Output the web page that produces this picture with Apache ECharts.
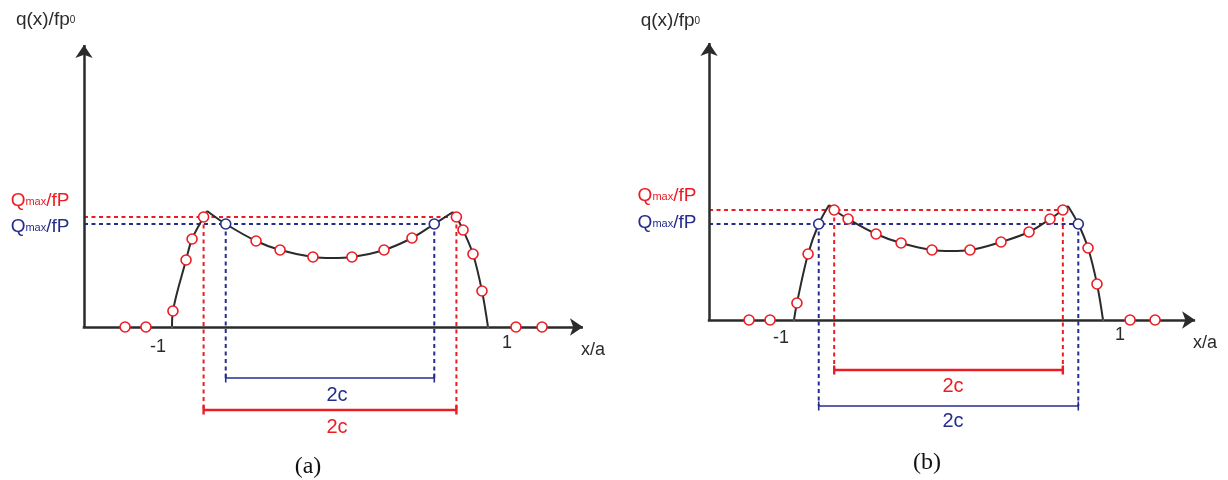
<!DOCTYPE html>
<html>
<head>
<meta charset="utf-8">
<script src="https://cdn.jsdelivr.net/npm/echarts@6/dist/echarts.min.js"></script>
<style>
  html, body { margin: 0; padding: 0; background: #ffffff; }
  #chart { width: 1228px; height: 480px; }
</style>
</head>
<body>
<div id="chart"></div>
<script>
// Contact pressure q(x)/fp0 over x/a, with the stick zone 2c marked.

// ---- text drawn on the figure ----
const yTitle = ['q(x)/fp', '0'];
const xTitle = 'x/a';
const tickValues = [-1, 1];
const tickLabels = ['-1', '1'];
const qmaxParts = ['Q', 'max', '/fP'];
const spanText = '2c';
const panelTags = ['(a)', '(b)'];

// ---- panel (a) ----
const aCurveLeft  = [[-1, 0], [-0.994, 0.16], [-0.911, 0.67], [-0.873, 0.88], [-0.80, 1.10], [-0.778, 1.16]];
const aCurveMid   = [[-0.778, 1.16], [-0.66, 1.03], [-0.468, 0.86], [-0.316, 0.77], [-0.108, 0.70], [0.013, 0.69],
                     [0.139, 0.70], [0.342, 0.77], [0.519, 0.89], [0.66, 1.03], [0.778, 1.15]];
const aCurveRight = [[0.778, 1.15], [0.80, 1.10], [0.842, 0.97], [0.905, 0.73], [0.962, 0.36], [1, 0]];
const aRedPoints  = [[-1.297, 0], [-1.165, 0], [-0.994, 0.16], [-0.911, 0.67], [-0.873, 0.88], [-0.80, 1.10],
                     [-0.468, 0.86], [-0.316, 0.77], [-0.108, 0.70], [0.139, 0.70], [0.342, 0.77], [0.519, 0.89],
                     [0.80, 1.10], [0.842, 0.97], [0.905, 0.73], [0.962, 0.36], [1.177, 0], [1.342, 0]];
const aBluePoints = [[-0.66, 1.03], [0.66, 1.03]];
const aRedQmax  = 1.10, aRedC  = 0.80;
const aBlueQmax = 1.03, aBlueC = 0.66;

// ---- panel (b) ----
const bCurveLeft  = [[-1, 0], [-0.981, 0.17], [-0.909, 0.66], [-0.84, 0.96], [-0.773, 1.15]];
const bCurveMid   = [[-0.773, 1.15], [-0.74, 1.10], [-0.650, 1.01], [-0.469, 0.86], [-0.307, 0.77], [-0.107, 0.70],
                     [0.016, 0.69], [0.139, 0.70], [0.340, 0.78], [0.521, 0.88], [0.657, 1.01], [0.74, 1.10], [0.773, 1.14]];
const bCurveRight = [[0.773, 1.14], [0.84, 0.96], [0.903, 0.72], [0.961, 0.36], [1, 0]];
const bRedPoints  = [[-1.291, 0], [-1.155, 0], [-0.981, 0.17], [-0.909, 0.66], [-0.74, 1.10], [-0.650, 1.01],
                     [-0.469, 0.86], [-0.307, 0.77], [-0.107, 0.70], [0.139, 0.70], [0.340, 0.78], [0.521, 0.88],
                     [0.657, 1.01], [0.74, 1.10], [0.903, 0.72], [0.961, 0.36], [1.175, 0], [1.337, 0]];
const bBluePoints = [[-0.84, 0.96], [0.84, 0.96]];
const bRedQmax  = 1.10, bRedC  = 0.74;
const bBlueQmax = 0.96, bBlueC = 0.84;

// ---- styling ----
const RED = '#ec1c24';
const BLUE = '#262d8c';
const INK = '#2b2b2b';
const SANS = '"Liberation Sans", Arial, Helvetica, sans-serif';
const SERIF = '"Liberation Serif", "Times New Roman", serif';

// per-panel layout (axes frame, bracket rows and annotation anchors, in data units)
const panels = [
  {
    grid: { left: 14, top: 7, width: 592.5, height: 470 },
    curves: [aCurveLeft, aCurveMid, aCurveRight], red: aRedPoints, blue: aBluePoints,
    redQ: aRedQmax, redC: aRedC, blueQ: aBlueQmax, blueC: aBlueC,
    axisX0: -1.557, axisXEnd: 1.601, axisYEnd: 2.82, cornerPad: 0.008,
    redRow: -0.83, blueRow: -0.51, redTextY: -1.00, blueTextY: -0.68, spanTextX: 0.044,
    yTitleAt: [-1.80, 3.07], qRedAt: [-1.835, 1.26], qBlueAt: [-1.835, 1.00],
    xTitleAt: [1.665, -0.23], tagAt: [-0.139, -1.40],
    tickOffsets: [[-14, 20], [19, 16]]
  },
  {
    grid: { left: 639.5, top: 0, width: 579.4, height: 470 },
    curves: [bCurveLeft, bCurveMid, bCurveRight], red: bRedPoints, blue: bBluePoints,
    redQ: bRedQmax, redC: bRedC, blueQ: bBlueQmax, blueC: bBlueC,
    axisX0: -1.550, axisXEnd: 1.596, axisYEnd: 2.77, cornerPad: 0.008,
    redRow: -0.50, blueRow: -0.86, redTextY: -0.66, blueTextY: -1.01, spanTextX: 0.029,
    yTitleAt: [-1.80, 2.99], qRedAt: [-1.822, 1.24], qBlueAt: [-1.822, 0.97],
    xTitleAt: [1.66, -0.23], tagAt: [-0.139, -1.43],
    tickOffsets: [[-13, 18], [17, 15]]
  }
];

const rich = {
  t:   { fontSize: 19, color: INK, fontFamily: SANS },
  ts:  { fontSize: 10, color: INK, fontFamily: SANS, verticalAlign: 'bottom', padding: [0, 0, 4, 0] },
  rq:  { fontSize: 19, color: RED, fontFamily: SANS },
  rqs: { fontSize: 11, color: RED, fontFamily: SANS, verticalAlign: 'bottom', padding: [0, 0, 3, 0] },
  bq:  { fontSize: 19, color: BLUE, fontFamily: SANS },
  bqs: { fontSize: 11, color: BLUE, fontFamily: SANS, verticalAlign: 'bottom', padding: [0, 0, 3, 0] }
};

function panelSeries(i, P) {
  const ax = { xAxisIndex: i, yAxisIndex: i };
  const out = [];

  const dashed = (color, pts) => ({
    type: 'line', ...ax, data: pts, symbol: 'none', silent: true, clip: false, z: 1,
    lineStyle: { color, width: 2, type: [4, 3.5] }
  });
  // guide lines from the Qmax levels to the stick-zone edges
  out.push(dashed(RED,  [[P.axisX0, P.redQ],  [P.redC, P.redQ]]));
  out.push(dashed(BLUE, [[P.axisX0, P.blueQ], [P.blueC, P.blueQ]]));
  [-1, 1].forEach(k => {
    out.push(dashed(RED,  [[k * P.redC, P.redQ],   [k * P.redC, P.redRow]]));
    out.push(dashed(BLUE, [[k * P.blueC, P.blueQ], [k * P.blueC, P.blueRow]]));
  });

  // 2c brackets
  const bracket = (color, c, y, w) => ({
    type: 'line', ...ax, data: [[-c, y], [c, y]], symbol: 'rect', symbolSize: [w, 9], showSymbol: true,
    itemStyle: { color }, lineStyle: { color, width: w }, silent: true, clip: false, z: 2
  });
  out.push(bracket(RED, P.redC, P.redRow, 2.4));
  out.push(bracket(BLUE, P.blueC, P.blueRow, 1.6));

  // coordinate axes with arrowheads
  out.push({
    type: 'line', ...ax, silent: true, clip: false, z: 3, symbol: 'none',
    data: [[P.axisX0, 0]],
    markLine: {
      silent: true, animation: false, symbol: ['none', 'arrow'], symbolSize: 13,
      label: { show: false },
      lineStyle: { color: INK, width: 2.5, type: 'solid' },
      emphasis: { disabled: true },
      data: [
        [{ coord: [P.axisX0 - P.cornerPad, 0] }, { coord: [P.axisXEnd, 0] }],
        [{ coord: [P.axisX0, 0] }, { coord: [P.axisX0, P.axisYEnd] }]
      ]
    }
  });

  // pressure curve: rising edge, central dip, falling edge
  P.curves.forEach(pts => out.push({
    type: 'line', ...ax, data: pts, symbol: 'none', smooth: 0.35, silent: true, clip: false, z: 4,
    lineStyle: { color: INK, width: 2 }
  }));

  // sampled values
  const marks = (color, pts) => ({
    type: 'scatter', ...ax, data: pts, symbol: 'circle', symbolSize: 10, silent: true, clip: false, z: 5,
    itemStyle: { color: '#ffffff', borderColor: color, borderWidth: 1.6, opacity: 1 }
  });
  out.push(marks(RED, P.red));
  out.push(marks(BLUE, P.blue));

  // annotations
  const txt = (at, formatter, extra) => ({ value: at, label: Object.assign({ formatter }, extra || {}) });
  const labelData = [
    txt(P.yTitleAt, `{t|${yTitle[0]}}{ts|${yTitle[1]}}`),
    txt(P.qRedAt,  `{rq|${qmaxParts[0]}}{rqs|${qmaxParts[1]}}{rq|${qmaxParts[2]}}`),
    txt(P.qBlueAt, `{bq|${qmaxParts[0]}}{bqs|${qmaxParts[1]}}{bq|${qmaxParts[2]}}`),
    txt(P.xTitleAt, xTitle, { fontSize: 18, color: INK }),
    txt([P.spanTextX, P.redTextY], spanText, { fontSize: 20, color: RED }),
    txt([P.spanTextX, P.blueTextY], spanText, { fontSize: 20, color: BLUE }),
    txt(P.tagAt, panelTags[i], { fontSize: 24, color: '#111111', fontFamily: SERIF })
  ];
  tickValues.forEach((v, j) => labelData.push(
    txt([v, 0], tickLabels[j], { fontSize: 18, color: INK, offset: P.tickOffsets[j] })
  ));
  out.push({
    type: 'scatter', ...ax, data: labelData, symbol: 'circle', symbolSize: 1, silent: true, clip: false, z: 6,
    itemStyle: { color: '#ffffff', opacity: 1 },
    label: {
      show: true, position: 'inside', fontFamily: SANS, rich,
      textBorderWidth: 0, textBorderColor: 'transparent', opacity: 1
    }
  });
  return out;
}

const chart = echarts.init(document.getElementById('chart'), null, { renderer: 'canvas' });
chart.setOption({
  animation: false,
  backgroundColor: '#ffffff',
  grid: panels.map(P => Object.assign({ containLabel: false }, P.grid)),
  xAxis: panels.map((P, i) => ({ type: 'value', gridIndex: i, min: -2, max: 1.75, show: false })),
  yAxis: panels.map((P, i) => ({ type: 'value', gridIndex: i, min: -1.5, max: 3.2, show: false })),
  series: panels.flatMap((P, i) => panelSeries(i, P))
});
</script>
</body>
</html>
